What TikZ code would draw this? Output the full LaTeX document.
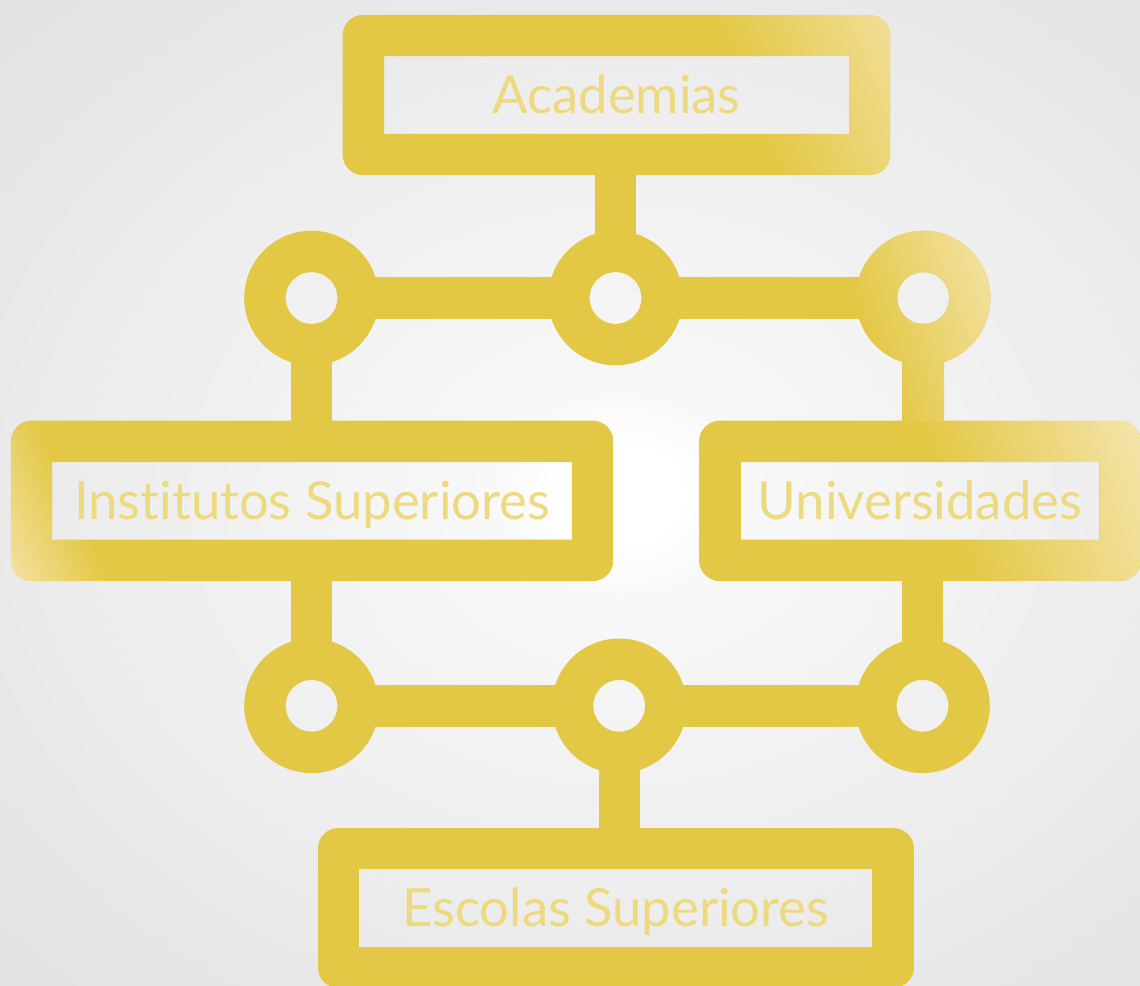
\documentclass[tikz,border=0pt]{standalone}
\usepackage{fontspec}
\setmainfont{Lato}[Ligatures=NoCommon]
\definecolor{ymain}{HTML}{E3C846}
\definecolor{ylight}{HTML}{F4E3A8}
\definecolor{ytext}{HTML}{EDD97E}
\definecolor{bgA}{HTML}{FFFFFF}
\definecolor{bgB}{HTML}{F8F8F8}
\definecolor{bgC}{HTML}{EDEDED}
\definecolor{bgD}{HTML}{EAEAEA}
\definecolor{bgE}{HTML}{E2E2E2}
\pgfdeclareradialshading{bgshade}{\pgfpoint{0bp}{0bp}}{color(0bp)=(bgA); color(2.5bp)=(bgA); color(5.2bp)=(bgB); color(21bp)=(bgC); color(24.5bp)=(bgD); color(35bp)=(bgE); color(50bp)=(bgE)}
\pgfdeclarehorizontalshading{glowA}{100bp}{color(0bp)=(ymain); color(60.1bp)=(ymain); color(76.7bp)=(ylight); color(100bp)=(ylight)}
\pgfdeclarehorizontalshading{glowU}{100bp}{color(0bp)=(ymain); color(52.7bp)=(ymain); color(72.7bp)=(ylight); color(100bp)=(ylight)}
\pgfdeclarehorizontalshading{glowC}{100bp}{color(0bp)=(ymain); color(39.3bp)=(ymain); color(64.3bp)=(ylight); color(100bp)=(ylight)}
\pgfdeclarehorizontalshading{glowI}{100bp}{color(0bp)=(ymain); color(65.8bp)=(ymain); color(72.5bp)=(ylight); color(100bp)=(ylight)}
\tikzset{
  box/.style={rectangle, draw=ymain, line width=41.4pt, line join=round, inner sep=0pt, outer sep=0pt,
    text=ytext, font=\fontsize{52.6}{60}\selectfont, text height=37.7pt, text depth=0pt},
  ring/.style={circle, draw=ymain, line width=41.4pt, minimum size=93.2pt, inner sep=0pt, outer sep=0pt},
  bar/.style={draw=ymain, line width=41.4pt},
}
\begin{document}
\begin{tikzpicture}[x=1pt,y=-1pt]
\useasboundingbox (0,0) rectangle (1140,985);
\shade[shading=bgshade] (0,0) rectangle (1240,990);

% boxes
\node[box, minimum width=506.4pt, minimum height=119pt] (aca) at (616.5,95) {Academias};
\node[box, minimum width=561pt, minimum height=119pt] (inst) at (312,500.8) {Institutos Superiores};
\node[box, minimum width=400pt, minimum height=119pt] (uni) at (920,500.8) {Universidades};
\node[box, minimum width=554.5pt, minimum height=119pt] (esc) at (615.7,908) {Escolas Superiores};

% rings
\node[ring] (c1) at (311.5,298) {};
\node[ring] (c2) at (615.5,298) {};
\node[ring] (c3) at (923.2,298) {};
\node[ring] (c4) at (311.5,705.8) {};
\node[ring] (c5) at (619.2,705.8) {};
\node[ring] (c6) at (922.5,705.8) {};

% connectors
\draw[bar] (c2) -- (c2 |- aca.south);
\draw[bar] (c1) -- (c2);
\draw[bar] (c2) -- (c3);
\draw[bar] (c1) -- (c1 |- inst.north);
\draw[bar] (c3) -- (c3 |- uni.north);
\draw[bar] (c4) -- (c4 |- inst.south);
\draw[bar] (c6) -- (c6 |- uni.south);
\draw[bar] (c4) -- (c5);
\draw[bar] (c5) -- (c6);
\draw[bar] (c5) -- (c5 |- esc.north);

% light overlays
\begin{scope}[rounded corners=20.7pt]
\clip (342.6,14.8) rectangle (890.4,175.2);
\begin{scope}[even odd rule, sharp corners]
\clip (-100,-200) rectangle (1300,1100) (384,56.2) rectangle (849,133.8);
\shade[shading=glowA, shading angle=22] (316.5,-205) rectangle (916.5,395);
\end{scope}
\end{scope}
\begin{scope}[rounded corners=20.7pt]
\clip (699.3,420.6) rectangle (1140.7,581);
\begin{scope}[even odd rule, sharp corners]
\clip (-100,-200) rectangle (1300,1100) (740.7,462) rectangle (1099.3,539.6);
\shade[shading=glowU, shading angle=17.5] (670,250.8) rectangle (1170,750.8);
\end{scope}
\end{scope}
\begin{scope}[even odd rule]
\clip (c3.center) circle[radius=67.3pt] (c3.center) circle[radius=25.9pt];
\shade[shading=glowC, shading angle=20] (773.2,148) rectangle (1073.2,448);
\end{scope}
\begin{scope}
\clip (902.5,360) rectangle (944,421);
\shade[shading=glowC, shading angle=20] (773.2,148) rectangle (1073.2,448);
\end{scope}
\begin{scope}[rounded corners=20.7pt]
\clip (10.8,420.6) rectangle (613.2,581);
\begin{scope}[even odd rule, sharp corners]
\clip (-100,-200) rectangle (1300,1100) (52.2,462) rectangle (571.8,539.6);
\shade[shading=glowI, shading angle=204] (-38,150.8) rectangle (662,850.8);
\end{scope}
\end{scope}
\end{tikzpicture}
\end{document}
